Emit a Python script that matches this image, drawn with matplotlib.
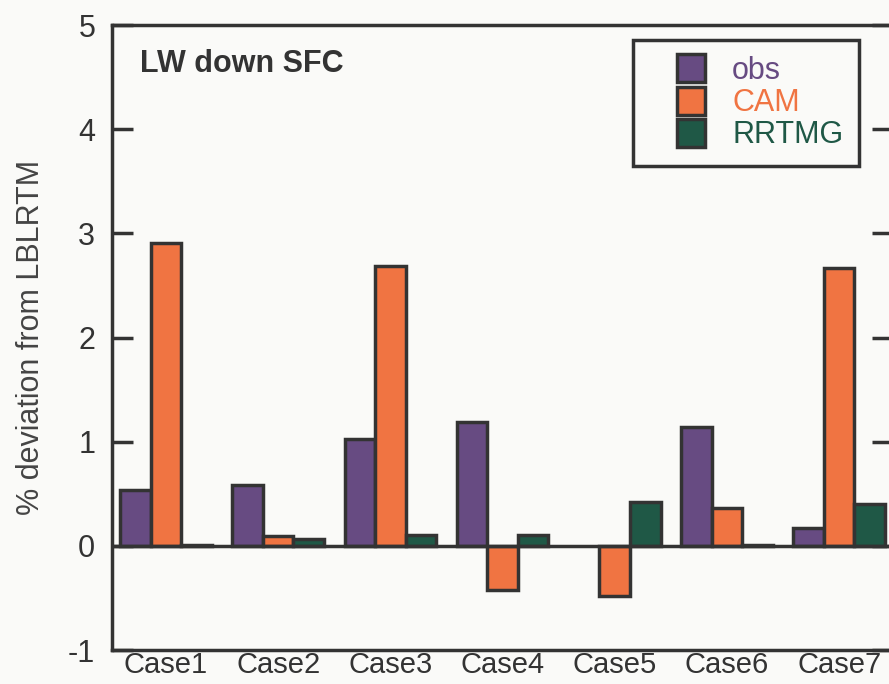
import numpy as np
import matplotlib
matplotlib.use("Agg")
import matplotlib.pyplot as plt
from matplotlib.patches import Rectangle
from matplotlib.legend_handler import HandlerPatch

plt.rcParams['font.family'] = ['Liberation Sans', 'DejaVu Sans']

cases = ["Case1", "Case2", "Case3", "Case4", "Case5", "Case6", "Case7"]
obs = [0.54, 0.58, 1.03, 1.19, np.nan, 1.14, 0.17]
cam = [2.91, 0.09, 2.69, -0.42, -0.48, 0.36, 2.67]
rrtmg = [0.01, 0.07, 0.10, 0.10, 0.42, 0.01, 0.40]
series_names = ["obs", "CAM", "RRTMG"]
colors = ["#674b82", "#f07442", "#1f5846"]
title = "LW down SFC"
ylabel = "% deviation from LBLRTM"

edge = "#333333"
bg = "#fafaf8"

fig = plt.figure(figsize=(8.89, 6.84), dpi=100, facecolor=bg)
ax = fig.add_axes([112/889, 1-650/684, 781/889, 625/684])
ax.set_facecolor(bg)

x = np.arange(1, len(cases) + 1)
w = 0.272
handles = []
for i, (vals, c, name) in enumerate(zip([obs, cam, rrtmg], colors, series_names)):
    h = ax.bar(x + (i - 1) * w, vals, width=w, color=c, edgecolor=edge,
               linewidth=2.5, label=name, zorder=2)
    handles.append(h)

ax.axhline(0, color=edge, lw=2.5, zorder=3)
ax.set_xlim(0.519, 7.48)
ax.set_ylim(-1, 5)
ax.set_yticks([-1, 0, 1, 2, 3, 4, 5])
ax.set_yticklabels(["-1", "0", "1", "2", "3", "4", "5"])
ax.set_xticks(x)
ax.set_xticklabels(cases)

for s in ax.spines.values():
    s.set_color(edge)
    s.set_linewidth(2.5)

ax.tick_params(axis='y', direction='in', length=15, width=2.5, color=edge,
               labelsize=22, labelcolor='#333333', pad=12, right=True)
ax.tick_params(axis='x', length=0, labelsize=21, labelcolor='#333333', pad=1)

ax.set_ylabel(ylabel, fontsize=22, color='#444444')
ax.yaxis.set_label_coords(-0.085, 0.5)

ax.text(0.036, 0.925, title, transform=ax.transAxes, fontsize=22,
        fontweight='bold', color='#333333', ha='left', va='baseline')


def square_patch(legend, orig_handle, xdescent, ydescent, width, height, fontsize):
    s = 28 * 72 / 100  # square side in points
    return Rectangle((-xdescent + width - s, -ydescent + (height - s) / 2), s, s)


leg_handles = [h.patches[0] for h in handles]
leg = ax.legend(handles=leg_handles, labels=series_names, loc='upper left',
                bbox_to_anchor=(0.667, 0.976), fontsize=22, frameon=True,
                fancybox=False, framealpha=1, handlelength=1.85, handleheight=0.95,
                handletextpad=0.9, labelspacing=0.05, borderpad=0.5,
                borderaxespad=0,
                handler_map={Rectangle: HandlerPatch(patch_func=square_patch)})
leg.get_frame().set_edgecolor(edge)
leg.get_frame().set_linewidth(2.5)
leg.get_frame().set_facecolor(bg)
for t, c in zip(leg.get_texts(), colors):
    t.set_color(c)

fig.savefig("out.png", dpi=100, facecolor=bg)
